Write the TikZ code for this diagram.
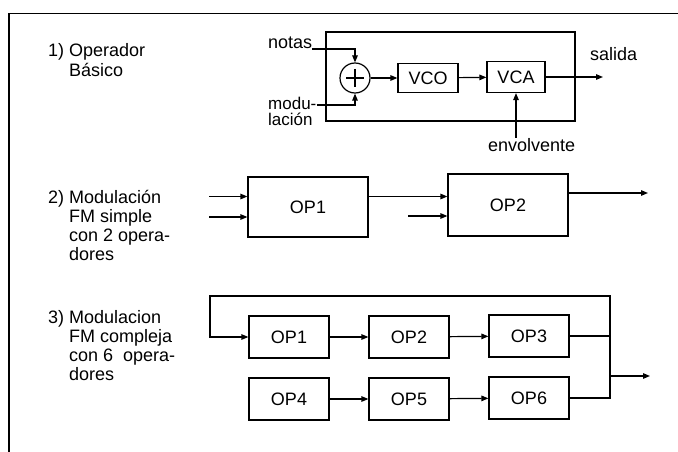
\documentclass[tikz,border=0pt]{standalone}
\usepackage{fontspec}
\setmainfont{Liberation Sans}
\usetikzlibrary{arrows.meta,calc}
\begin{document}
\begin{tikzpicture}[x=1pt,y=-1pt,
  every node/.style={font=\fontsize{18}{20}\selectfont},
  lbl/.style={anchor=base west, inner sep=0pt},
  small/.style={font=\fontsize{17}{18}\selectfont},
  blk/.style={draw, line width=1.2pt, inner sep=0pt},
  ln/.style={line width=1.2pt},
  arr/.style={line width=1.2pt, -{Triangle[length=7pt,width=5.5pt]}},
]
\useasboundingbox[fill=white] (0,0) rectangle (678,452);
% outer frame
\draw[line width=1.4pt] (9,452) -- (9,13.5) -- (678,13.5);

% ---------- 1) Operador basico ----------
\node[lbl] (t1a) at (48,57) {1) Operador};
\node[lbl] (t1b) at (48,77) {\hphantom{1)}\ Básico};
\node[blk, minimum width=249pt, minimum height=89pt] (opbox) at (450.5,76.5) {};
\node[draw, circle, line width=1.2pt, minimum size=30pt, inner sep=0pt] (sum) at (355,78) {};
\draw[ln] (sum.center) ++(-9,0) -- ++(18,0);
\draw[ln] (sum.center) ++(0,-9) -- ++(0,18);
\node[blk, minimum width=60pt, minimum height=29pt] (vco) at (428,78) {VCO};
\node[blk, minimum width=58pt, minimum height=31pt] (vca) at (516,77) {VCA};
\node[lbl] (notas) at (268,49) {notas};
\node[lbl, small] (modu) at (268,109.5) {modu-};
\node[lbl, small] (lacion) at (268,125.5) {lación};
\node[lbl] (salida) at (590,61) {salida};
\node[lbl] (env) at (488,151) {envolvente};
\coordinate (modout) at ($(modu.base east)+(0,-4.5)$);
\coordinate (vcaout) at (603,77);
\draw[arr] (notas.base east) -| (sum.north);
\draw[arr] (modout) -| (sum.south);
\draw[arr] (sum) -- (vco);
\draw[arr] (vco) -- (vca);
\draw[arr] (vca) -- (vcaout);
\draw[arr] (env.north -| vca.south) -- (vca.south);

% ---------- 2) FM simple ----------
\node[lbl] (t2a) at (48,203) {2) Modulación};
\node[lbl] (t2b) at (69,222) {FM simple};
\node[lbl] (t2c) at (69,241) {con 2 opera-};
\node[lbl] (t2d) at (69,260) {dores};
\node[blk, minimum width=120pt, minimum height=60pt] (opA) at (308,207) {OP1};
\node[blk, minimum width=120pt, minimum height=62pt] (opB) at (508,205) {OP2};
\coordinate (in1a) at (209,196.5);
\coordinate (in1b) at (209,217);
\coordinate (in2b) at (408,216);
\coordinate (out2) at (648,193);
\draw[arr] (in1a) -- (in1a -| opA.west);
\draw[arr] (in1b) -- (in1b -| opA.west);
\draw[arr] (opA.east |- in1a) -- (opB.west |- in1a);
\draw[arr] (in2b) -- (in2b -| opB.west);
\draw[arr] (opB.east |- out2) -- (out2);

% ---------- 3) FM compleja ----------
\node[lbl] (t3a) at (48,323) {3) Modulacion};
\node[lbl] (t3b) at (69,342) {FM compleja};
\node[lbl] (t3c) at (69,361) {con 6\hspace{0.55em}opera-};
\node[lbl] (t3d) at (69,380) {dores};
\node[blk, minimum width=80pt, minimum height=42pt] (p1) at (289,337) {OP1};
\node[blk, minimum width=80pt, minimum height=42pt] (p2) at (409,337) {OP2};
\node[blk, minimum width=80pt, minimum height=42pt] (p3) at (529,336) {OP3};
\node[blk, minimum width=80pt, minimum height=42pt] (p4) at (289,399) {OP4};
\node[blk, minimum width=80pt, minimum height=42pt] (p5) at (409,399) {OP5};
\node[blk, minimum width=80pt, minimum height=42pt] (p6) at (529,398) {OP6};
\draw[arr] (p1) -- (p2);
\draw[arr] (p2) -- (p3);
\draw[arr] (p4) -- (p5);
\draw[arr] (p5) -- (p6);
\coordinate (bus) at (610,296);
\coordinate (fbl) at (210,296);
\coordinate (o3s) at (610,376);
\coordinate (o3e) at (650,376);
\draw[ln] (p3.east) -- (p3.east -| bus);
\draw[arr] (p6.east) -| (bus) -- (fbl) |- (p1.west);
\draw[arr] (o3s) -- (o3e);
\end{tikzpicture}
\end{document}
